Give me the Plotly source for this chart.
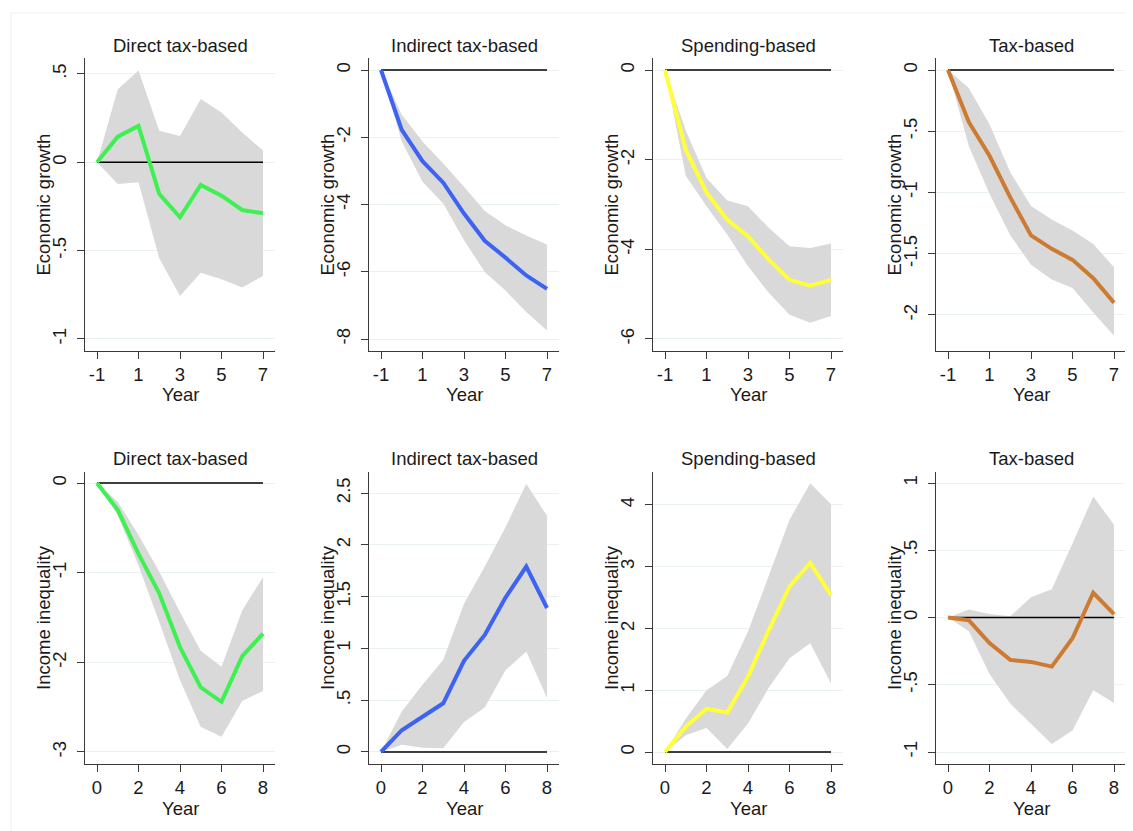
import plotly.graph_objects as go

# ---------------- data ----------------
years_top = [-1, 0, 1, 2, 3, 4, 5, 6, 7]
years_bot = [0, 1, 2, 3, 4, 5, 6, 7, 8]

panel_titles = ["Direct tax-based", "Indirect tax-based", "Spending-based", "Tax-based"]
row_labels = ["Economic growth", "Income inequality"]

growth_direct = [0, 0.145, 0.206, -0.179, -0.311, -0.128, -0.189, -0.27, -0.289]
growth_direct_hi = [0, 0.413, 0.519, 0.179, 0.149, 0.358, 0.281, 0.168, 0.066]
growth_direct_lo = [0, -0.123, -0.113, -0.543, -0.757, -0.625, -0.662, -0.709, -0.643]

growth_indirect = [0, -1.78, -2.71, -3.35, -4.27, -5.08, -5.58, -6.11, -6.51]
growth_indirect_hi = [0, -1.33, -2.13, -2.78, -3.47, -4.19, -4.62, -4.92, -5.19]
growth_indirect_lo = [0, -2.13, -3.32, -3.97, -5.06, -6.01, -6.56, -7.20, -7.75]

growth_spending = [0, -1.78, -2.73, -3.34, -3.71, -4.23, -4.68, -4.81, -4.68]
growth_spending_hi = [0, -1.35, -2.41, -2.91, -3.04, -3.52, -3.93, -3.97, -3.87]
growth_spending_lo = [0, -2.36, -3.04, -3.67, -4.38, -4.97, -5.46, -5.64, -5.49]

growth_tax = [0, -0.424, -0.70, -1.04, -1.35, -1.46, -1.55, -1.70, -1.90]
growth_tax_hi = [0, -0.146, -0.443, -0.835, -1.11, -1.22, -1.31, -1.42, -1.61]
growth_tax_lo = [0, -0.62, -1.01, -1.35, -1.59, -1.71, -1.78, -1.98, -2.17]

ineq_direct = [0, -0.30, -0.79, -1.23, -1.83, -2.28, -2.44, -1.93, -1.68]
ineq_direct_hi = [0, -0.21, -0.58, -0.99, -1.44, -1.87, -2.05, -1.42, -1.05]
ineq_direct_lo = [0, -0.36, -0.92, -1.55, -2.20, -2.72, -2.83, -2.43, -2.32]

ineq_indirect = [0, 0.21, 0.34, 0.47, 0.88, 1.13, 1.49, 1.79, 1.39]
ineq_indirect_hi = [0, 0.39, 0.65, 0.89, 1.43, 1.79, 2.17, 2.59, 2.28]
ineq_indirect_lo = [0, 0.07, 0.04, 0.035, 0.29, 0.43, 0.79, 0.97, 0.52]

ineq_spending = [0, 0.41, 0.70, 0.64, 1.22, 1.97, 2.68, 3.06, 2.54]
ineq_spending_hi = [0, 0.54, 1.00, 1.23, 1.95, 2.84, 3.76, 4.35, 4.01]
ineq_spending_lo = [0, 0.27, 0.39, 0.05, 0.46, 1.04, 1.52, 1.76, 1.11]

ineq_tax = [0, -0.02, -0.19, -0.315, -0.33, -0.365, -0.154, 0.184, 0.025]
ineq_tax_hi = [0, 0.06, 0.027, 0.01, 0.15, 0.21, 0.55, 0.90, 0.69]
ineq_tax_lo = [0, -0.10, -0.42, -0.64, -0.79, -0.94, -0.84, -0.54, -0.635]

x_ticks_top = [-1, 1, 3, 5, 7]
x_ticks_bot = [0, 2, 4, 6, 8]

ytick_vals = [
    [-1, -0.5, 0, 0.5], [-8, -6, -4, -2, 0], [-6, -4, -2, 0], [-2, -1.5, -1, -0.5, 0],
    [-3, -2, -1, 0], [0, 0.5, 1, 1.5, 2, 2.5], [0, 1, 2, 3, 4], [-1, -0.5, 0, 0.5, 1],
]
ytick_text = [
    ["-1", "-.5", "0", ".5"], ["-8", "-6", "-4", "-2", "0"], ["-6", "-4", "-2", "0"],
    ["-2", "-1.5", "-1", "-.5", "0"],
    ["-3", "-2", "-1", "0"], ["0", ".5", "1", "1.5", "2", "2.5"], ["0", "1", "2", "3", "4"],
    ["-1", "-.5", "0", ".5", "1"],
]
y_ranges = [
    [-1.068, 0.59], [-8.357, 0.357], [-6.268, 0.268], [-2.294, 0.098],
    [-3.134, 0.123], [-0.116, 2.703], [-0.194, 4.534], [-1.089, 1.082],
]

series = [
    (growth_direct, growth_direct_hi, growth_direct_lo),
    (growth_indirect, growth_indirect_hi, growth_indirect_lo),
    (growth_spending, growth_spending_hi, growth_spending_lo),
    (growth_tax, growth_tax_hi, growth_tax_lo),
    (ineq_direct, ineq_direct_hi, ineq_direct_lo),
    (ineq_indirect, ineq_indirect_hi, ineq_indirect_lo),
    (ineq_spending, ineq_spending_hi, ineq_spending_lo),
    (ineq_tax, ineq_tax_hi, ineq_tax_lo),
]

line_colors = ["#3FF052", "#3D63F2", "#FFFF3A", "#CD7A33"]
band_color = "#D9D9D9"
grid_color = "#E9F1F3"
axis_color = "#3A3A3A"
FONT = "Liberation Sans, Arial, sans-serif"
FS = 18.5

OFF = 8  # page body margin in the browser
W, H = 1133 - OFF, 831 - OFF
col_left = [85 - OFF, 369 - OFF, 653 - OFF, 936 - OFF]
col_width = 190
row_top = [58 - OFF, 472 - OFF]
row_bottom = [351 - OFF, 764 - OFF]
title_y = [45 - OFF, 458 - OFF]
year_y = [395 - OFF, 808 - OFF]

fig = go.Figure()
layout = dict(
    width=W, height=H, margin=dict(l=0, r=0, t=0, b=0),
    paper_bgcolor="white", plot_bgcolor="white", showlegend=False,
    font=dict(family=FONT, size=FS, color="#1a1a1a"),
    annotations=[], shapes=[],
)

for i in range(8):
    r, c = divmod(i, 4)
    n = i + 1
    xa = "x" if n == 1 else f"x{n}"
    ya = "y" if n == 1 else f"y{n}"
    xs = years_top if r == 0 else years_bot
    mid, hi, lo = series[i]

    # confidence band
    fig.add_trace(go.Scatter(
        x=xs + xs[::-1], y=hi + lo[::-1], fill="toself", fillcolor=band_color,
        line=dict(width=0), mode="lines", hoverinfo="skip", xaxis=xa, yaxis=ya,
    ))
    # zero reference line
    fig.add_trace(go.Scatter(
        x=xs, y=[0] * len(xs), mode="lines", line=dict(color="black", width=1.6),
        xaxis=xa, yaxis=ya, hoverinfo="skip",
    ))
    # estimate
    fig.add_trace(go.Scatter(
        x=xs, y=mid, mode="lines", line=dict(color=line_colors[c], width=4),
        xaxis=xa, yaxis=ya,
    ))

    x0 = col_left[c] / W
    x1 = (col_left[c] + col_width) / W
    y0 = 1 - row_bottom[r] / H
    y1 = 1 - row_top[r] / H
    unit = 166 / 8
    if r == 0:
        xr = [-1 - 12 / unit, 7 + 12 / unit]
        xt = x_ticks_top
    else:
        xr = [0 - 12 / unit, 8 + 12 / unit]
        xt = x_ticks_bot

    layout["xaxis" if n == 1 else f"xaxis{n}"] = dict(
        domain=[x0, x1], range=xr, anchor=ya, tickvals=xt,
        ticktext=[str(v) for v in xt], showgrid=False, zeroline=False,
        showline=True, linecolor=axis_color, linewidth=1.3,
        ticks="outside", ticklen=7, tickwidth=1.3, tickcolor=axis_color,
        tickfont=dict(size=FS, family=FONT, color="#1a1a1a"),
    )
    layout["yaxis" if n == 1 else f"yaxis{n}"] = dict(
        domain=[y0, y1], range=y_ranges[i], anchor=xa, tickvals=ytick_vals[i],
        ticktext=ytick_text[i], showgrid=True, gridcolor=grid_color, gridwidth=1,
        zeroline=False, showline=True, linecolor=axis_color, linewidth=1.3,
        ticks="outside", ticklen=7, tickwidth=1.3, tickcolor=axis_color,
        tickangle=-90, ticklabelstandoff=3,
        tickfont=dict(size=FS, family=FONT, color="#1a1a1a"),
    )

    cx = (col_left[c] + col_width / 2) / W
    layout["annotations"].append(dict(
        text=panel_titles[c], x=cx, y=1 - title_y[r] / H, xref="paper", yref="paper",
        xanchor="center", yanchor="middle", showarrow=False,
        font=dict(size=FS, family=FONT, color="#1a1a1a"),
    ))
    layout["annotations"].append(dict(
        text="Year", x=(col_left[c] + 12 + 83) / W, y=1 - year_y[r] / H,
        xref="paper", yref="paper", xanchor="center", yanchor="middle",
        showarrow=False, font=dict(size=FS, family=FONT, color="#1a1a1a"),
    ))
    layout["annotations"].append(dict(
        text=row_labels[r], x=(col_left[c] - 42) / W,
        y=1 - (row_top[r] + row_bottom[r]) / 2 / H,
        xref="paper", yref="paper", xanchor="center", yanchor="middle",
        textangle=-90, showarrow=False, font=dict(size=FS, family=FONT, color="#1a1a1a"),
    ))

# faint outer frame
layout["shapes"].append(dict(
    type="rect", xref="paper", yref="paper", x0=3 / W, x1=1.01, y0=-0.01, y1=1 - 5 / H,
    line=dict(color="#EFEFEF", width=1), fillcolor="rgba(0,0,0,0)", layer="below",
))

fig.update_layout(**layout)
fig.write_html("out.html")
